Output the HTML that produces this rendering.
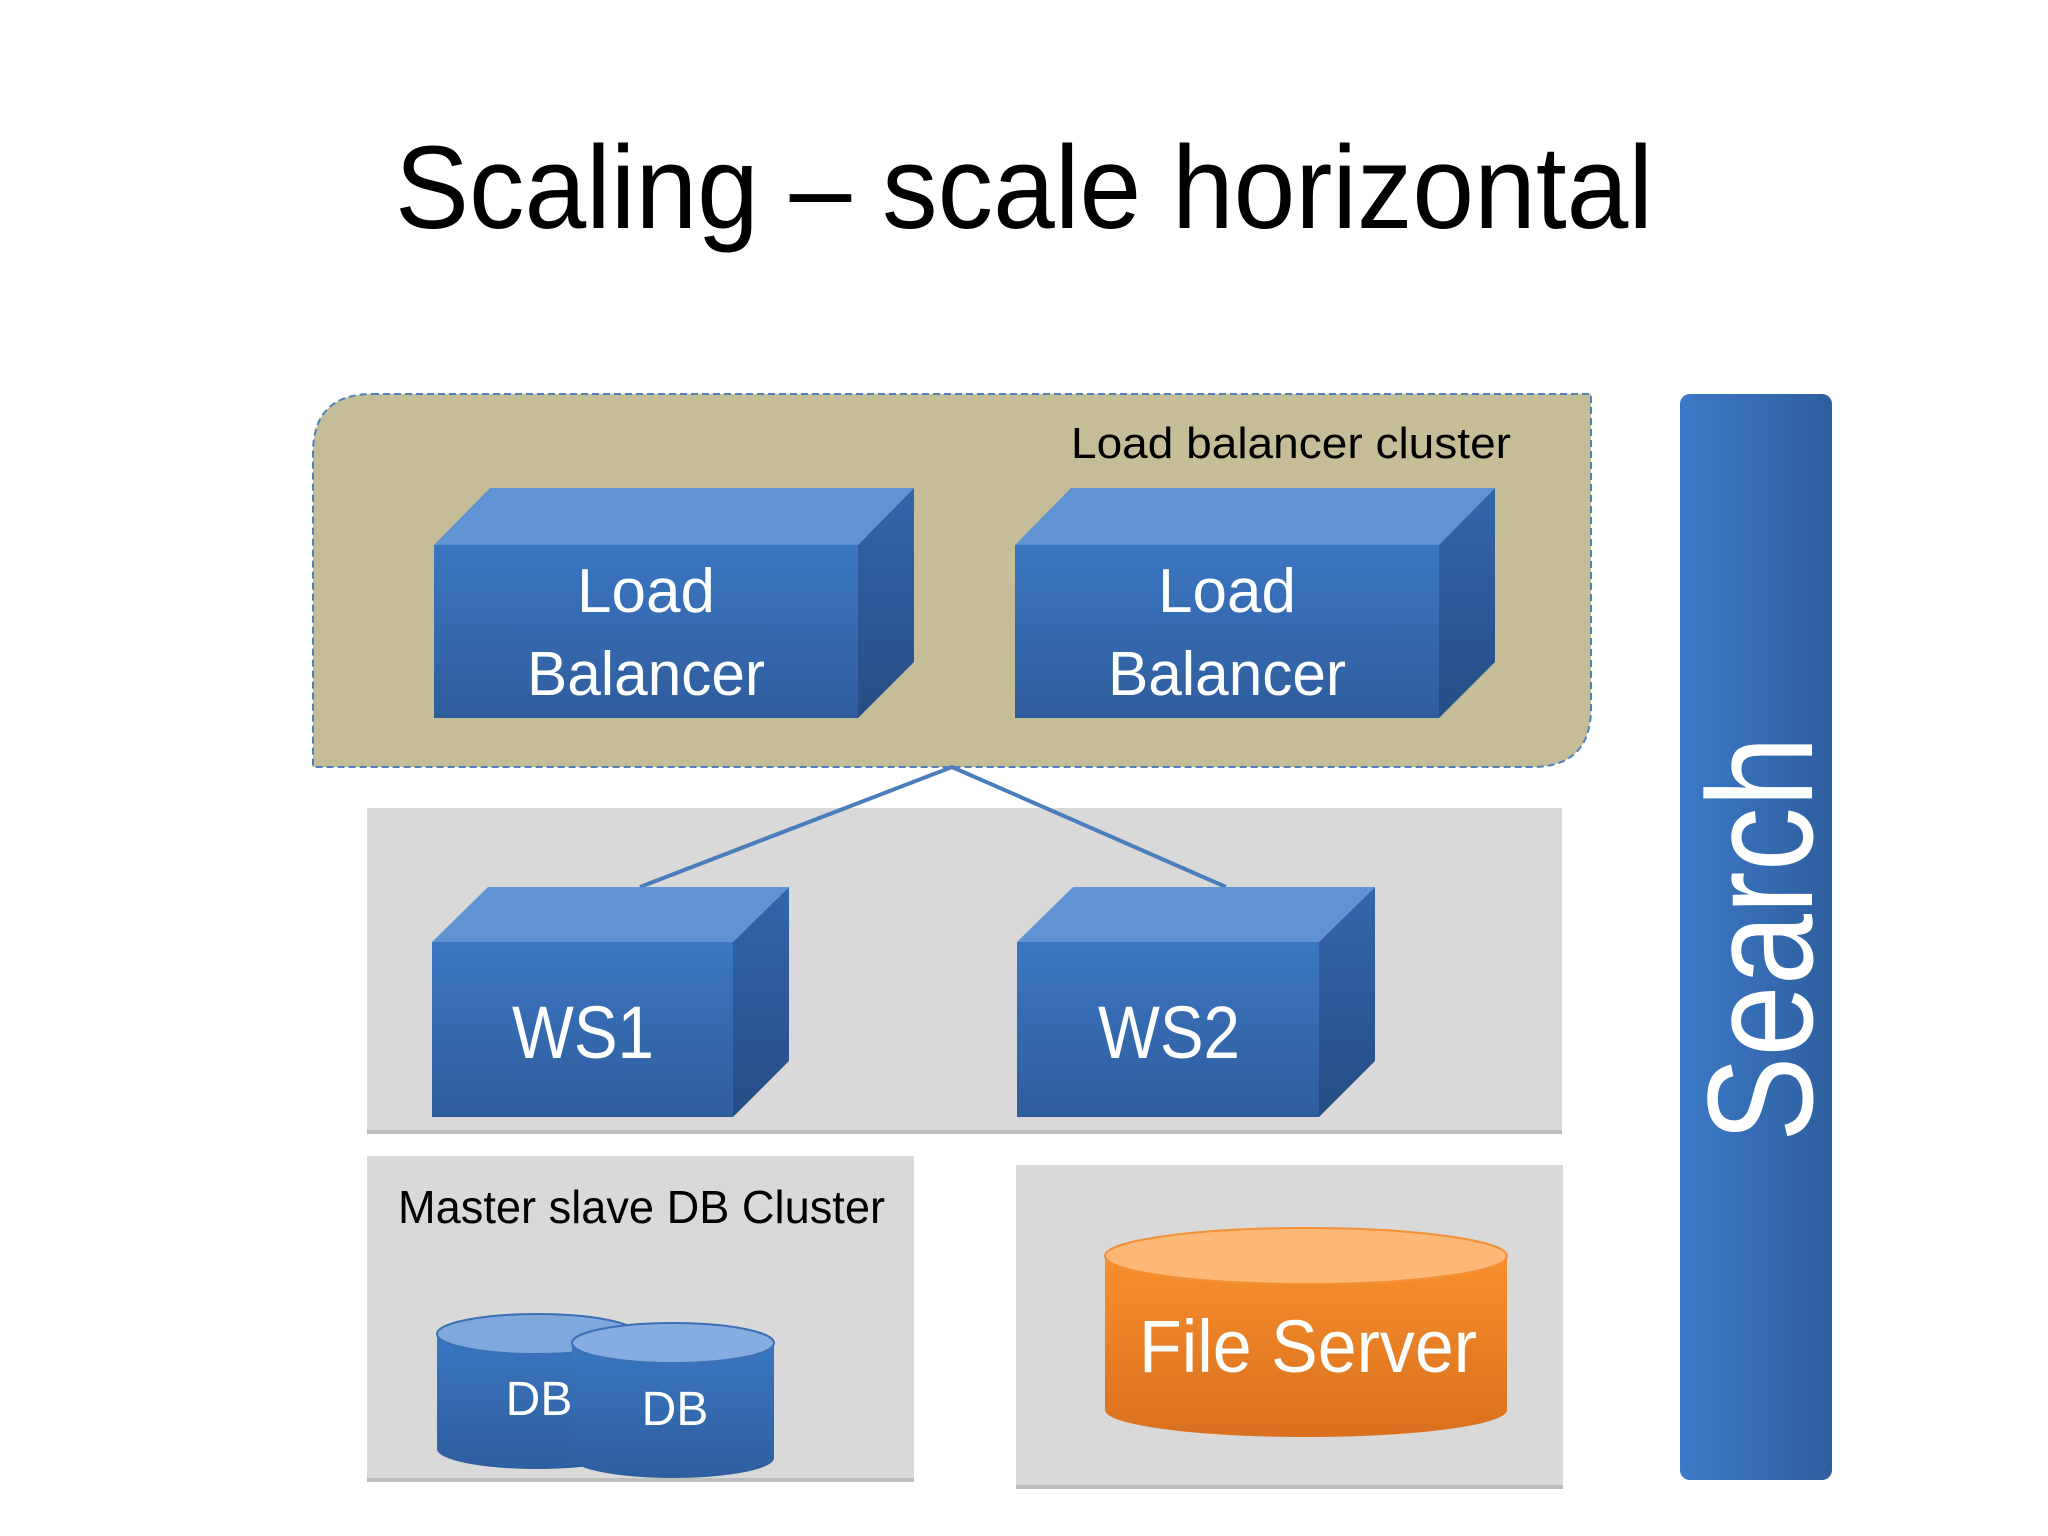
<!DOCTYPE html>
<html><head><meta charset="utf-8"><style>
html,body{margin:0;padding:0;background:#fff;}
svg{display:block;}
text{font-family:"Liberation Sans",sans-serif;}
</style></head><body>
<svg width="2048" height="1536" viewBox="0 0 2048 1536" xmlns="http://www.w3.org/2000/svg">
<defs>
<linearGradient id="front" x1="0" y1="0" x2="0" y2="1"><stop offset="0" stop-color="#3b76c2"/><stop offset="1" stop-color="#2f5d9c"/></linearGradient>
<linearGradient id="side" x1="0" y1="0" x2="0" y2="1"><stop offset="0" stop-color="#3366aa"/><stop offset="1" stop-color="#264d85"/></linearGradient>
<linearGradient id="srch" x1="0" y1="0" x2="1" y2="0"><stop offset="0" stop-color="#3c7ac8"/><stop offset="1" stop-color="#2e5f9f"/></linearGradient>
<linearGradient id="orange" x1="0" y1="0" x2="0" y2="1"><stop offset="0" stop-color="#f88f2c"/><stop offset="1" stop-color="#d8701f"/></linearGradient>
<linearGradient id="dbg" x1="0" y1="0" x2="0" y2="1"><stop offset="0" stop-color="#3a76c2"/><stop offset="1" stop-color="#2e5e9e"/></linearGradient>
</defs>

<text x="1024" y="228" font-size="118" text-anchor="middle" textLength="1258" lengthAdjust="spacingAndGlyphs" fill="#000">Scaling – scale horizontal</text>

<!-- LB cluster -->
<path d="M372,394 H1591 V708 Q1591,767 1532,767 H313 V453 Q313,394 372,394 Z" fill="#c4bd97" stroke="#4f81bd" stroke-width="2" stroke-dasharray="7,4"/>
<text x="1511" y="458" font-size="44" text-anchor="end" textLength="440" lengthAdjust="spacingAndGlyphs" fill="#000">Load balancer cluster</text>

<!-- WS panel -->
<rect x="367" y="808" width="1195" height="326" fill="#d9d9d9"/>
<rect x="367" y="1130" width="1195" height="4" fill="#bdbdbd"/>
<!-- DB panel -->
<rect x="367" y="1156" width="547" height="326" fill="#d9d9d9"/>
<rect x="367" y="1478" width="547" height="4" fill="#bdbdbd"/>
<!-- FS panel -->
<rect x="1016" y="1165" width="547" height="324" fill="#d9d9d9"/>
<rect x="1016" y="1485" width="547" height="4" fill="#bdbdbd"/>

<!-- lines -->
<polyline points="640,887 952,767 1226,887" fill="none" stroke="#4a7ebb" stroke-width="4"/>

<!-- LB boxes -->
<g>
<polygon points="434,545 490,488 914,488 858,545" fill="#5f93d3"/>
<polygon points="858,545 914,488 914,662 858,718" fill="url(#side)"/>
<rect x="434" y="545" width="424" height="173" fill="url(#front)"/>
<text x="646" y="612" font-size="62" fill="#fff" text-anchor="middle">Load</text>
<text x="646" y="695" font-size="62" fill="#fff" text-anchor="middle" textLength="238" lengthAdjust="spacingAndGlyphs">Balancer</text>
</g>
<g>
<polygon points="1015,545 1071,488 1495,488 1439,545" fill="#5f93d3"/>
<polygon points="1439,545 1495,488 1495,662 1439,718" fill="url(#side)"/>
<rect x="1015" y="545" width="424" height="173" fill="url(#front)"/>
<text x="1227" y="612" font-size="62" fill="#fff" text-anchor="middle">Load</text>
<text x="1227" y="695" font-size="62" fill="#fff" text-anchor="middle" textLength="238" lengthAdjust="spacingAndGlyphs">Balancer</text>
</g>

<!-- WS boxes -->
<g>
<polygon points="432,942 488,887 789,887 733,942" fill="#5f93d3"/>
<polygon points="733,942 789,887 789,1061 733,1117" fill="url(#side)"/>
<rect x="432" y="942" width="301" height="175" fill="url(#front)"/>
<text x="583" y="1058" font-size="74" fill="#fff" text-anchor="middle" textLength="142" lengthAdjust="spacingAndGlyphs">WS1</text>
</g>
<g>
<polygon points="1017,942 1073,887 1375,887 1319,942" fill="#5f93d3"/>
<polygon points="1319,942 1375,887 1375,1061 1319,1117" fill="url(#side)"/>
<rect x="1017" y="942" width="302" height="175" fill="url(#front)"/>
<text x="1169" y="1058" font-size="74" fill="#fff" text-anchor="middle" textLength="142" lengthAdjust="spacingAndGlyphs">WS2</text>
</g>

<text x="398" y="1223" font-size="46" fill="#000" textLength="487" lengthAdjust="spacingAndGlyphs">Master slave DB Cluster</text>

<!-- DB cylinders -->
<g>
<path d="M437,1334 V1449 A100,20 0 0 0 637,1449 V1334 Z" fill="url(#dbg)"/>
<ellipse cx="537" cy="1334" rx="100" ry="20" fill="#7fa9dc" stroke="#3b70b5" stroke-width="2"/>
<text x="539" y="1415" font-size="48" fill="#fff" text-anchor="middle">DB</text>
</g>
<g>
<path d="M572,1343 V1458 A101,20 0 0 0 774,1458 V1343 Z" fill="url(#dbg)"/>
<ellipse cx="673" cy="1343" rx="101" ry="20" fill="#86ade0" stroke="#3b70b5" stroke-width="2"/>
<text x="675" y="1425" font-size="48" fill="#fff" text-anchor="middle">DB</text>
</g>

<!-- File server -->
<path d="M1105,1256 V1410 A201,27 0 0 0 1507,1410 V1256 Z" fill="url(#orange)"/>
<ellipse cx="1306" cy="1256" rx="201" ry="28" fill="#fdb877" stroke="#f39036" stroke-width="2"/>
<text x="1308" y="1372" font-size="74" fill="#fff" text-anchor="middle" textLength="338" lengthAdjust="spacingAndGlyphs">File Server</text>

<!-- Search -->
<rect x="1680" y="394" width="152" height="1086" rx="10" fill="url(#srch)"/>
<text transform="translate(1812,939) rotate(-90)" font-size="150" fill="#fff" text-anchor="middle" textLength="406" lengthAdjust="spacingAndGlyphs">Search</text>
</svg>
</body></html>
